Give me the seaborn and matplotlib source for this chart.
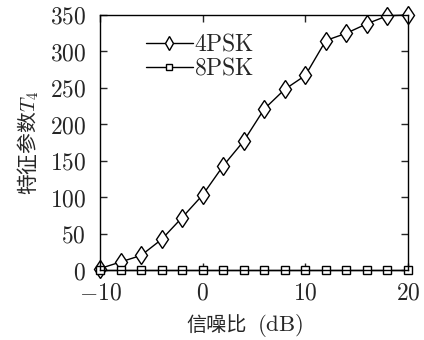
import pandas as pd
import matplotlib
matplotlib.use("Agg")
import matplotlib.pyplot as plt
import seaborn as sns
from matplotlib.ticker import FuncFormatter

sns.set_style("white")
plt.rcParams["mathtext.fontset"] = "cm"
plt.rcParams["font.family"] = ["Noto Sans CJK SC", "DejaVu Sans"]

snr = [-10, -8, -6, -4, -2, 0, 2, 4, 6, 8, 10, 12, 14, 16, 18, 20]
t4_4psk = [2, 11, 20, 42, 72, 103, 143, 177, 221, 248, 267, 315, 325, 338, 349, 350]
t4_8psk = [0] * len(snr)

df = pd.DataFrame({"snr": snr * 2,
                   "t4": t4_4psk + t4_8psk,
                   "mod": ["4PSK"] * len(snr) + ["8PSK"] * len(snr)})

fig = plt.figure(figsize=(4.24, 3.4), dpi=100)
ax = fig.add_axes([100 / 424, 70 / 340, 308 / 424, 255 / 340])

sns.lineplot(data=df, x="snr", y="t4", hue="mod", style="mod",
             markers={"4PSK": "d", "8PSK": "s"}, dashes=False,
             palette={"4PSK": "black", "8PSK": "black"},
             markersize=9.5, markerfacecolor="white", markeredgecolor="black",
             markeredgewidth=1.0, linewidth=1.0, ax=ax)
for line in ax.lines:
    line.set_clip_on(False)
    if line.get_marker() == "s":
        line.set_markersize(6)

ax.set_xlim(-10, 20)
ax.set_ylim(0, 350)
ax.set_xticks([-10, 0, 10, 20])
ax.set_yticks(range(0, 351, 50))
fmt = FuncFormatter(lambda v, p: r"$%d$" % v)
ax.xaxis.set_major_formatter(fmt)
ax.yaxis.set_major_formatter(fmt)
ax.tick_params(direction="in", length=5, width=1, labelsize=17,
               top=True, right=True, left=True, bottom=True)
ax.tick_params(axis="y", pad=10)
ax.tick_params(axis="x", pad=8)
for s in ax.spines.values():
    s.set_color("black")
    s.set_linewidth(1.0)

# x label: CJK part and the (dB) part are set at different sizes
ax.set_xlabel("")
ax.text(0.38, -0.216, "信噪比", transform=ax.transAxes, fontsize=14.5,
        ha="center", va="center")
ax.text(0.585, -0.216, r"$\mathrm{(dB)}$", transform=ax.transAxes, fontsize=16.5,
        ha="center", va="center")
ax.set_ylabel(r"特征参数$T_4$", fontsize=15, labelpad=6)

leg = ax.legend(frameon=False, loc="upper left", bbox_to_anchor=(0.095, 0.995),
                fontsize=17, handlelength=2.0, handletextpad=0.05,
                borderpad=0.2, labelspacing=0.05, markerscale=0.7)
for t in leg.get_texts():
    t.set_text(r"$\mathrm{%s}$" % t.get_text())

fig.savefig("out.png", dpi=100)
